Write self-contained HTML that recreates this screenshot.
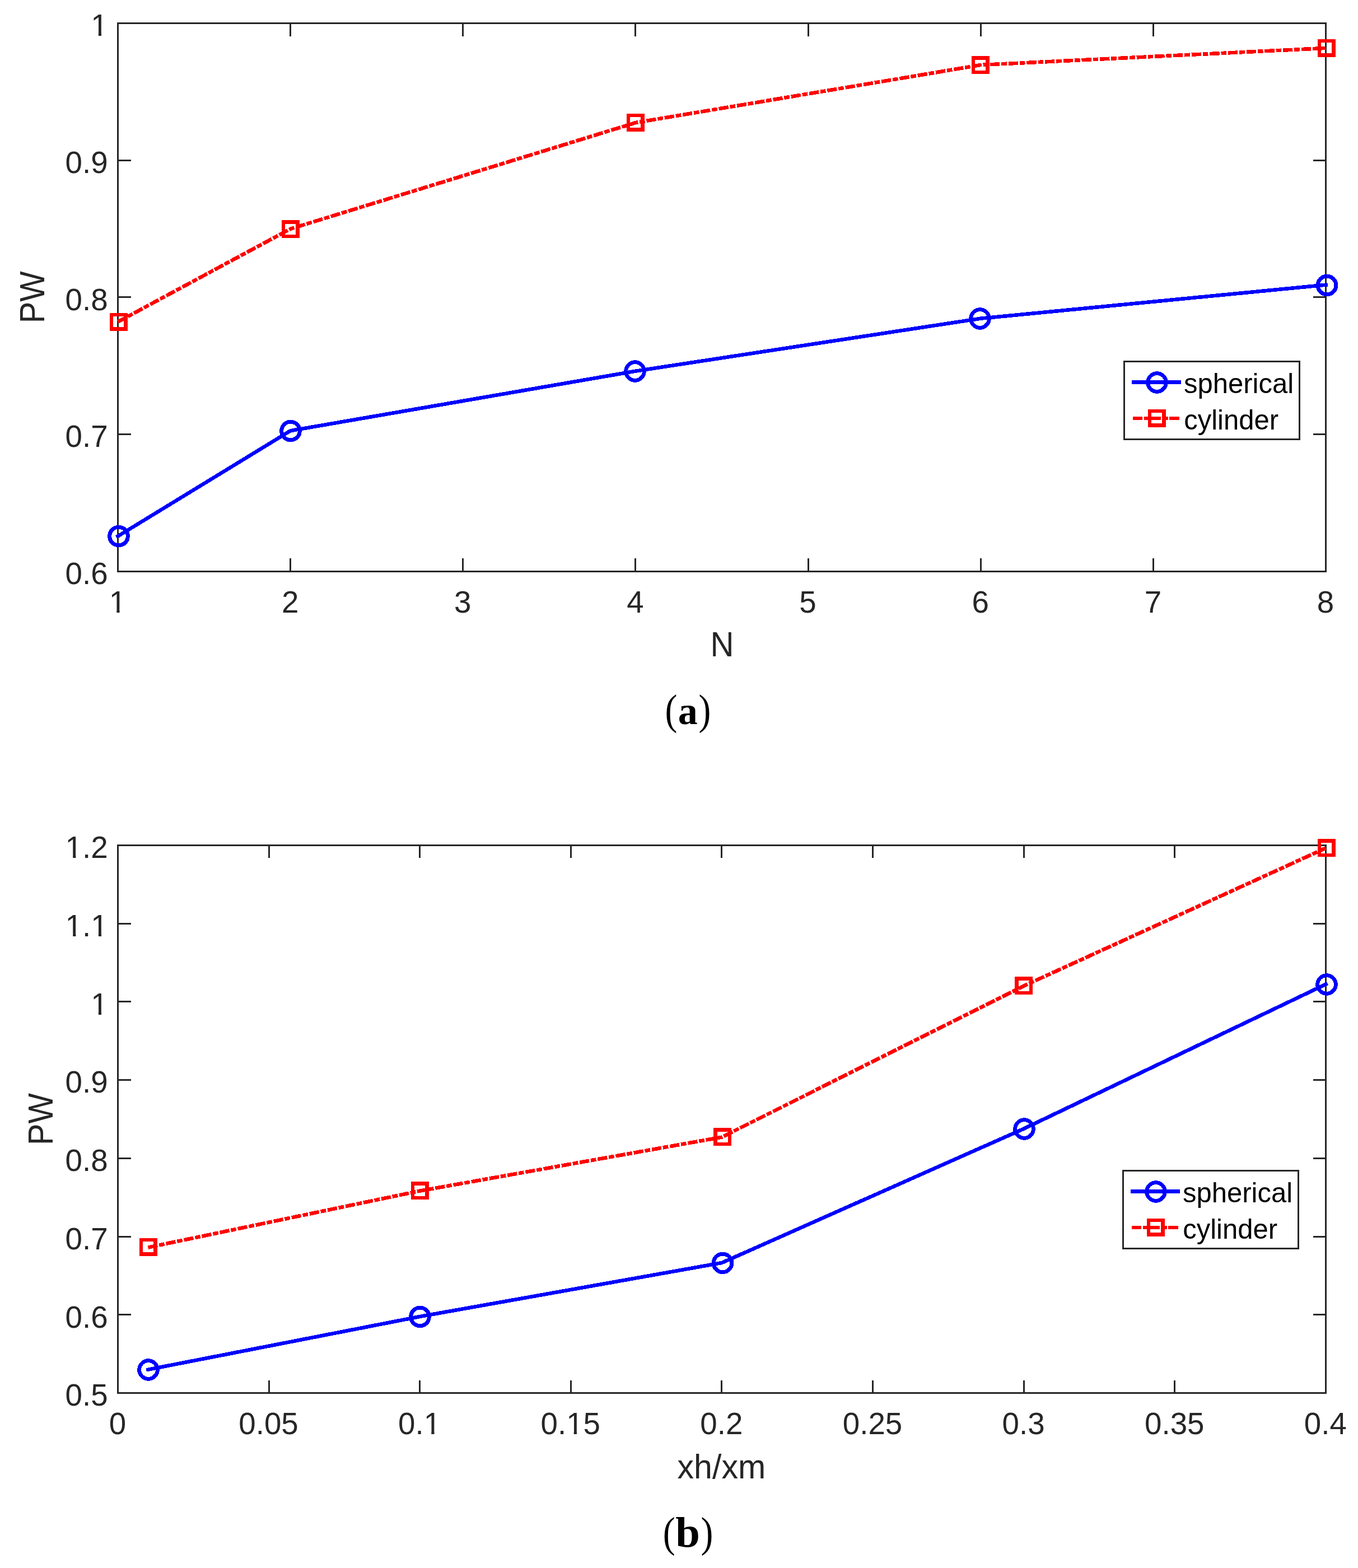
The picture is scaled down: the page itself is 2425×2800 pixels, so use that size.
<!DOCTYPE html>
<html lang="en"><head><meta charset="utf-8"><title>PW versus N and xh/xm</title>
<style>html,body{margin:0;padding:0;background:#fff}body{width:2425px;height:2800px;overflow:hidden}svg{display:block}text{white-space:pre}</style>
</head><body>
<svg width="2425" height="2800" viewBox="0 0 2425 2800" role="img" aria-label="PW versus N (a) and PW versus xh/xm (b) for spherical and cylinder">
<rect width="2425" height="2800" fill="#fff"/>
<defs>
<clipPath id="c1"><rect x="209" y="40" width="2159.6" height="982"/></clipPath>
<clipPath id="c2"><rect x="209" y="1508" width="2159.6" height="981"/></clipPath>
<clipPath id="k0"><rect x="-4" y="-55.56" width="38.9" height="50.01"/><rect x="13.77" y="-6.15" width="5.31" height="10.15"/></clipPath>
<clipPath id="k1"><rect x="-4" y="-55.56" width="85.24" height="50.01"/><rect x="13.77" y="-6.15" width="5.31" height="10.15"/><rect x="30.9" y="-6.15" width="15.44" height="10.15"/><rect x="46.34" y="-6.15" width="30.9" height="10.15"/></clipPath>
<clipPath id="k2"><rect x="-4" y="-55.56" width="85.24" height="50.01"/><rect x="13.77" y="-6.15" width="5.31" height="10.15"/><rect x="30.9" y="-6.15" width="15.44" height="10.15"/><rect x="60.11" y="-6.15" width="5.31" height="10.15"/></clipPath>
<clipPath id="k3"><rect x="-4" y="-55.56" width="85.24" height="50.01"/><rect x="0" y="-6.15" width="30.9" height="10.15"/><rect x="30.9" y="-6.15" width="15.44" height="10.15"/><rect x="60.11" y="-6.15" width="5.31" height="10.15"/></clipPath>
<clipPath id="k4"><rect x="-4" y="-55.56" width="116.14" height="50.01"/><rect x="0" y="-6.15" width="30.9" height="10.15"/><rect x="30.9" y="-6.15" width="15.44" height="10.15"/><rect x="60.11" y="-6.15" width="5.31" height="10.15"/><rect x="77.24" y="-6.15" width="30.9" height="10.15"/></clipPath>
</defs>
<g id="chart-a">
<rect x="210.5" y="41.5" width="2157.0" height="979.0" fill="none" stroke="#262626" stroke-width="3"/>
<path d="M518.5 1020.5V997M518.5 41.5V65M826.5 1020.5V997M826.5 41.5V65M1134.5 1020.5V997M1134.5 41.5V65M1443.5 1020.5V997M1443.5 41.5V65M1751.5 1020.5V997M1751.5 41.5V65M2059.5 1020.5V997M2059.5 41.5V65M210.5 286.5H234M2367.5 286.5H2345M210.5 530.5H234M2367.5 530.5H2345M210.5 775.5H234M2367.5 775.5H2345" fill="none" stroke="#262626" stroke-width="3"/>
<text transform="translate(162.26 64.1) scale(0.985 1)" font-size="55.56" fill="#262626" font-family='"Liberation Sans", Arial, Helvetica, sans-serif' clip-path="url(#k0)">1</text>
<text transform="translate(116.62 308.85) scale(0.985 1)" font-size="55.56" fill="#262626" font-family='"Liberation Sans", Arial, Helvetica, sans-serif'>0.9</text>
<text transform="translate(116.62 553.6) scale(0.985 1)" font-size="55.56" fill="#262626" font-family='"Liberation Sans", Arial, Helvetica, sans-serif'>0.8</text>
<text transform="translate(116.62 798.35) scale(0.985 1)" font-size="55.56" fill="#262626" font-family='"Liberation Sans", Arial, Helvetica, sans-serif'>0.7</text>
<text transform="translate(116.62 1043.1) scale(0.985 1)" font-size="55.56" fill="#262626" font-family='"Liberation Sans", Arial, Helvetica, sans-serif'>0.6</text>
<text transform="translate(194.78 1094) scale(0.985 1)" font-size="55.56" fill="#262626" font-family='"Liberation Sans", Arial, Helvetica, sans-serif' clip-path="url(#k0)">1</text>
<text transform="translate(502.92 1094) scale(0.985 1)" font-size="55.56" fill="#262626" font-family='"Liberation Sans", Arial, Helvetica, sans-serif'>2</text>
<text transform="translate(811.07 1094) scale(0.985 1)" font-size="55.56" fill="#262626" font-family='"Liberation Sans", Arial, Helvetica, sans-serif'>3</text>
<text transform="translate(1119.21 1094) scale(0.985 1)" font-size="55.56" fill="#262626" font-family='"Liberation Sans", Arial, Helvetica, sans-serif'>4</text>
<text transform="translate(1427.35 1094) scale(0.985 1)" font-size="55.56" fill="#262626" font-family='"Liberation Sans", Arial, Helvetica, sans-serif'>5</text>
<text transform="translate(1735.5 1094) scale(0.985 1)" font-size="55.56" fill="#262626" font-family='"Liberation Sans", Arial, Helvetica, sans-serif'>6</text>
<text transform="translate(2043.64 1094) scale(0.985 1)" font-size="55.56" fill="#262626" font-family='"Liberation Sans", Arial, Helvetica, sans-serif'>7</text>
<text transform="translate(2351.78 1094) scale(0.985 1)" font-size="55.56" fill="#262626" font-family='"Liberation Sans", Arial, Helvetica, sans-serif'>8</text>
<text transform="translate(1268.46 1172.3) scale(0.953 1.02)" font-size="61.1" fill="#262626" font-family='"Liberation Sans", Arial, Helvetica, sans-serif'>N</text>
<text transform="translate(79 577.17) rotate(-90) scale(0.945 1.022)" font-size="61.1" fill="#262626" font-family='"Liberation Sans", Arial, Helvetica, sans-serif'>PW</text>
<g shape-rendering="crispEdges">
<path d="M210.5 957.5L518.64 769.2L1134.93 662.7L1751.21 568.7L2367.5 508.7" fill="none" stroke="#00f" stroke-width="6.6" stroke-linejoin="round" stroke-linecap="square"/>
<circle cx="212" cy="957.5" r="16.3" fill="none" stroke="#00f" stroke-width="7"/>
<circle cx="519" cy="769.5" r="16.3" fill="none" stroke="#00f" stroke-width="7"/>
<circle cx="1134" cy="663" r="16.3" fill="none" stroke="#00f" stroke-width="7"/>
<circle cx="1750" cy="569" r="16.3" fill="none" stroke="#00f" stroke-width="7"/>
<circle cx="2369.5" cy="509.5" r="16.3" fill="none" stroke="#00f" stroke-width="7"/>
<path d="M210.5 574.7L518.64 408.7L1134.93 219.1L1751.21 116L2367.5 85.9" fill="none" stroke="#f00" stroke-width="6.6" stroke-linejoin="round" stroke-linecap="butt" stroke-dasharray="17.3 2.9 9.63 2.9" clip-path="url(#c1)"/>
<path d="M196 559h32v32h-32zM202 565v19h19v-19z" fill="#f00" fill-rule="evenodd"/>
<path d="M503 393h32v32h-32zM509 400v19h19v-19z" fill="#f00" fill-rule="evenodd"/>
<path d="M1119 203h32v32h-32zM1125 209v19h19v-19z" fill="#f00" fill-rule="evenodd"/>
<path d="M1735 100h32v32h-32zM1741 107v19h19v-19z" fill="#f00" fill-rule="evenodd"/>
<path d="M2353 70h32v32h-32zM2359 76v19h19v-19z" fill="#f00" fill-rule="evenodd"/>
<rect x="2007.5" y="645.5" width="313" height="139" fill="#fff" stroke="#262626" stroke-width="3" shape-rendering="auto"/>
<path d="M2021 682.5H2109" stroke="#00f" stroke-width="6.6" fill="none"/>
<circle cx="2066" cy="683" r="16.3" fill="none" stroke="#00f" stroke-width="7"/>
<path d="M2023 747H2106.4" stroke="#f00" stroke-width="6.6" fill="none" stroke-dasharray="17.3 2.9 9.63 2.9"/>
<path d="M2050 731h32v32h-32zM2056 737v19h19v-19z" fill="#f00" fill-rule="evenodd"/>
</g>
<text transform="translate(2114.04 702.3) scale(0.98 1)" font-size="50" fill="#000" font-family='"Liberation Sans", Arial, Helvetica, sans-serif'>spherical</text>
<text transform="translate(2114.22 766.5) scale(0.98 1)" font-size="50" fill="#000" font-family='"Liberation Sans", Arial, Helvetica, sans-serif'>cylinder</text>
</g>
<text fill="#000" font-family='"Liberation Serif", "Times New Roman", Times, serif'><tspan x="1187.51" y="1293.4" font-size="76.5" textLength="21.91" lengthAdjust="spacingAndGlyphs">(</tspan><tspan x="1210.8" y="1293.4" font-size="70" font-weight="bold">a</tspan><tspan x="1247.58" y="1293.4" font-size="76.5" textLength="21.91" lengthAdjust="spacingAndGlyphs">)</tspan></text>
<g id="chart-b">
<rect x="210.5" y="1509.5" width="2157.0" height="978.0" fill="none" stroke="#262626" stroke-width="3"/>
<path d="M480.5 2487.5V2465M480.5 1509.5V1532M749.5 2487.5V2465M749.5 1509.5V1532M1019.5 2487.5V2465M1019.5 1509.5V1532M1288.5 2487.5V2465M1288.5 1509.5V1532M1558.5 2487.5V2465M1558.5 1509.5V1532M1828.5 2487.5V2465M1828.5 1509.5V1532M2097.5 2487.5V2465M2097.5 1509.5V1532M210.5 1649.5H234M2367.5 1649.5H2345M210.5 1788.5H234M2367.5 1788.5H2345M210.5 1928.5H234M2367.5 1928.5H2345M210.5 2068.5H234M2367.5 2068.5H2345M210.5 2208.5H234M2367.5 2208.5H2345M210.5 2347.5H234M2367.5 2347.5H2345" fill="none" stroke="#262626" stroke-width="3"/>
<text transform="translate(116.62 1532.3) scale(0.985 1)" font-size="55.56" fill="#262626" font-family='"Liberation Sans", Arial, Helvetica, sans-serif' clip-path="url(#k1)">1.2</text>
<text transform="translate(116.62 1672.01) scale(0.985 1)" font-size="55.56" fill="#262626" font-family='"Liberation Sans", Arial, Helvetica, sans-serif' clip-path="url(#k2)">1.1</text>
<text transform="translate(162.26 1811.73) scale(0.985 1)" font-size="55.56" fill="#262626" font-family='"Liberation Sans", Arial, Helvetica, sans-serif' clip-path="url(#k0)">1</text>
<text transform="translate(116.62 1951.44) scale(0.985 1)" font-size="55.56" fill="#262626" font-family='"Liberation Sans", Arial, Helvetica, sans-serif'>0.9</text>
<text transform="translate(116.62 2091.16) scale(0.985 1)" font-size="55.56" fill="#262626" font-family='"Liberation Sans", Arial, Helvetica, sans-serif'>0.8</text>
<text transform="translate(116.62 2230.87) scale(0.985 1)" font-size="55.56" fill="#262626" font-family='"Liberation Sans", Arial, Helvetica, sans-serif'>0.7</text>
<text transform="translate(116.62 2370.59) scale(0.985 1)" font-size="55.56" fill="#262626" font-family='"Liberation Sans", Arial, Helvetica, sans-serif'>0.6</text>
<text transform="translate(116.62 2510.3) scale(0.985 1)" font-size="55.56" fill="#262626" font-family='"Liberation Sans", Arial, Helvetica, sans-serif'>0.5</text>
<text transform="translate(194.68 2561) scale(0.985 1)" font-size="55.56" fill="#262626" font-family='"Liberation Sans", Arial, Helvetica, sans-serif'>0</text>
<text transform="translate(426.27 2561) scale(0.985 1)" font-size="55.56" fill="#262626" font-family='"Liberation Sans", Arial, Helvetica, sans-serif'>0.05</text>
<text transform="translate(711.11 2561) scale(0.985 1)" font-size="55.56" fill="#262626" font-family='"Liberation Sans", Arial, Helvetica, sans-serif' clip-path="url(#k3)">0.1</text>
<text transform="translate(965.52 2561) scale(0.985 1)" font-size="55.56" fill="#262626" font-family='"Liberation Sans", Arial, Helvetica, sans-serif' clip-path="url(#k4)">0.15</text>
<text transform="translate(1250.36 2561) scale(0.985 1)" font-size="55.56" fill="#262626" font-family='"Liberation Sans", Arial, Helvetica, sans-serif'>0.2</text>
<text transform="translate(1504.77 2561) scale(0.985 1)" font-size="55.56" fill="#262626" font-family='"Liberation Sans", Arial, Helvetica, sans-serif'>0.25</text>
<text transform="translate(1789.61 2561) scale(0.985 1)" font-size="55.56" fill="#262626" font-family='"Liberation Sans", Arial, Helvetica, sans-serif'>0.3</text>
<text transform="translate(2044.02 2561) scale(0.985 1)" font-size="55.56" fill="#262626" font-family='"Liberation Sans", Arial, Helvetica, sans-serif'>0.35</text>
<text transform="translate(2328.86 2561) scale(0.985 1)" font-size="55.56" fill="#262626" font-family='"Liberation Sans", Arial, Helvetica, sans-serif'>0.4</text>
<text transform="translate(1209.55 2640.2) scale(0.968 1)" font-size="61.1" fill="#262626" font-family='"Liberation Sans", Arial, Helvetica, sans-serif'>xh/xm</text>
<text transform="translate(94 2045.07) rotate(-90) scale(0.945 1.022)" font-size="61.1" fill="#262626" font-family='"Liberation Sans", Arial, Helvetica, sans-serif'>PW</text>
<g shape-rendering="crispEdges">
<path d="M264.4 2445.7L749.75 2351L1289 2255L1828.25 2015.6L2367.5 1757.6" fill="none" stroke="#00f" stroke-width="6.6" stroke-linejoin="round" stroke-linecap="square"/>
<circle cx="265" cy="2446" r="16.3" fill="none" stroke="#00f" stroke-width="7"/>
<circle cx="750" cy="2351.4" r="16.3" fill="none" stroke="#00f" stroke-width="7"/>
<circle cx="1290.5" cy="2255.4" r="16.3" fill="none" stroke="#00f" stroke-width="7"/>
<circle cx="1829" cy="2016" r="16.3" fill="none" stroke="#00f" stroke-width="7"/>
<circle cx="2369" cy="1758" r="16.3" fill="none" stroke="#00f" stroke-width="7"/>
<path d="M264.4 2227.6L749.75 2126.6L1289 2030.6L1828.25 1760.5L2367.5 1514.4" fill="none" stroke="#f00" stroke-width="6.6" stroke-linejoin="round" stroke-linecap="butt" stroke-dasharray="17.3 2.9 9.63 2.9" clip-path="url(#c2)"/>
<path d="M249 2211h32v32h-32zM255 2217v19h19v-19z" fill="#f00" fill-rule="evenodd"/>
<path d="M734 2110h32v32h-32zM740 2117v19h19v-19z" fill="#f00" fill-rule="evenodd"/>
<path d="M1274 2014h32v32h-32zM1281 2021v19h19v-19z" fill="#f00" fill-rule="evenodd"/>
<path d="M1812 1744h32v32h-32zM1819 1751v19h19v-19z" fill="#f00" fill-rule="evenodd"/>
<path d="M2353 1498h32v32h-32zM2359 1505v19h19v-19z" fill="#f00" fill-rule="evenodd"/>
<rect x="2005.5" y="2090.5" width="313" height="139" fill="#fff" stroke="#262626" stroke-width="3" shape-rendering="auto"/>
<path d="M2019 2127.5H2107" stroke="#00f" stroke-width="6.6" fill="none"/>
<circle cx="2064" cy="2128" r="16.3" fill="none" stroke="#00f" stroke-width="7"/>
<path d="M2021 2192H2104.4" stroke="#f00" stroke-width="6.6" fill="none" stroke-dasharray="17.3 2.9 9.63 2.9"/>
<path d="M2048 2176h32v32h-32zM2054 2182v19h19v-19z" fill="#f00" fill-rule="evenodd"/>
</g>
<text transform="translate(2112.04 2147.3) scale(0.98 1)" font-size="50" fill="#000" font-family='"Liberation Sans", Arial, Helvetica, sans-serif'>spherical</text>
<text transform="translate(2112.22 2211.5) scale(0.98 1)" font-size="50" fill="#000" font-family='"Liberation Sans", Arial, Helvetica, sans-serif'>cylinder</text>
</g>
<text fill="#000" font-family='"Liberation Serif", "Times New Roman", Times, serif'><tspan x="1183.71" y="2761.8" font-size="76.5" textLength="21.91" lengthAdjust="spacingAndGlyphs">(</tspan><tspan x="1206.25" y="2762.3" font-size="77" font-weight="bold" textLength="43.68" lengthAdjust="spacingAndGlyphs">b</tspan><tspan x="1251.58" y="2761.8" font-size="76.5" textLength="21.91" lengthAdjust="spacingAndGlyphs">)</tspan></text>
</svg>
</body></html>
